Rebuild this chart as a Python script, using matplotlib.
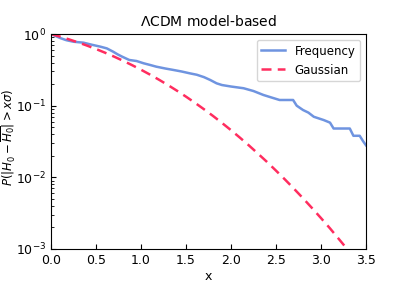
import matplotlib
matplotlib.use("Agg")
import matplotlib.pyplot as plt

freq_x = [0.0, 0.10, 0.17, 0.25, 0.36, 0.45, 0.55, 0.62, 0.69, 0.74, 0.79, 0.87,
          0.95, 1.03, 1.10, 1.17, 1.27, 1.36, 1.45, 1.54, 1.62, 1.70, 1.77, 1.84,
          1.90, 2.00, 2.14, 2.25, 2.36, 2.45, 2.54, 2.69, 2.73, 2.80, 2.86, 2.92,
          3.03, 3.10, 3.14, 3.32, 3.36, 3.43, 3.47, 3.50]
freq_y = [1.0, 0.88, 0.82, 0.78, 0.757, 0.71, 0.665, 0.63, 0.567, 0.52, 0.483, 0.434,
          0.42, 0.39, 0.37, 0.35, 0.33, 0.315, 0.30, 0.283, 0.27, 0.25, 0.228, 0.205,
          0.194, 0.185, 0.175, 0.16, 0.141, 0.13, 0.12, 0.12, 0.10, 0.087, 0.08, 0.070,
          0.063, 0.058, 0.048, 0.048, 0.038, 0.038, 0.0316, 0.028]

# Gaussian two-sided tail
gauss_x = [0.0, 0.1, 0.2, 0.3, 0.4, 0.5, 0.6, 0.7, 0.8, 0.9, 1.0, 1.1, 1.2, 1.3,
           1.4, 1.5, 1.6, 1.7, 1.8, 1.9, 2.0, 2.1, 2.2, 2.3, 2.4, 2.5, 2.6, 2.7,
           2.8, 2.9, 3.0, 3.1, 3.2, 3.3, 3.4, 3.5]
gauss_y = [1.0, 0.9203, 0.8415, 0.7642, 0.6892, 0.6171, 0.5485, 0.4839, 0.4237,
           0.3681, 0.3173, 0.2713, 0.2301, 0.1936, 0.1615, 0.1336, 0.1096, 0.0891,
           0.0719, 0.0574, 0.0455, 0.0357, 0.0278, 0.0214, 0.0164, 0.0124, 0.00932,
           0.00693, 0.00511, 0.00373, 0.00270, 0.00194, 0.00137, 0.000967,
           0.000674, 0.000465]

fig = plt.figure(figsize=(4.07, 2.85), dpi=100)
ax = fig.add_axes([51 / 407, 1 - 249 / 285, 315 / 407, 215 / 285])

ax.plot(freq_x, freq_y, color="#6f94e0", lw=1.8, label="Frequency")
ax.plot(gauss_x, gauss_y, color="#ff2d5f", lw=1.8, ls=(0, (4, 2.5)), label="Gaussian")

ax.set_yscale("log")
ax.set_xlim(0, 3.5)
ax.set_ylim(1e-3, 1)
ax.set_xticks([0, 0.5, 1.0, 1.5, 2.0, 2.5, 3.0, 3.5])
ax.tick_params(which="both", direction="in", labelsize=9)
ax.set_xlabel("x", fontsize=9, labelpad=2)
ax.set_ylabel(r"$P(|H_0-\overline{H_0}| > x\sigma)$", fontsize=8.5)
ax.yaxis.set_label_coords(-0.108, 0.52)
ax.set_title(r"$\Lambda$CDM model-based", fontsize=10)
ax.legend(loc="upper right", fontsize=8.5)

fig.savefig("out.png", dpi=100)
